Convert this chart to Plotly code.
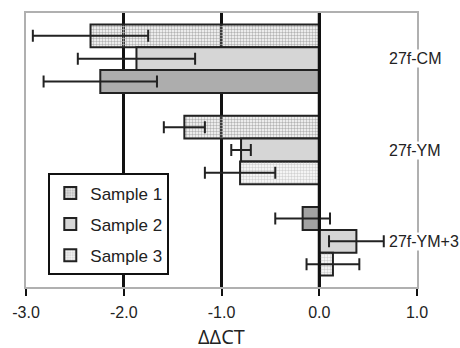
import plotly.graph_objects as go

# ---- data ----
categories = ["27f-YM", "27f-CM", "27f-YM+3"]      # data order
display_order = ["27f-CM", "27f-YM", "27f-YM+3"]   # top -> bottom
series_names = ["Sample 1", "Sample 2", "Sample 3"]

sample1 = [-1.38, -2.34, -0.17]
sample1_err = [0.21, 0.59, 0.28]
sample2 = [-0.80, -1.87, 0.38]
sample2_err = [0.10, 0.60, 0.28]
sample3 = [-0.81, -2.24, 0.14]
sample3_err = [0.36, 0.58, 0.27]

x_tick_vals = [-3, -2, -1, 0, 1]
x_tick_labels = ["-3.0", "-2.0", "-1.0", "0.0", "1.0"]
x_title = "ΔΔCT"

# ---- styles ----
DARK = "#adadad"
LIGHT = "#d6d6d6"
PAT_DARK_BG, PAT_DARK_FG = "#b4b4b4", "#e6e6e6"
PAT_LIGHT_BG, PAT_LIGHT_FG = "#d2d2d2", "#f6f6f6"
EDGE = "#222222"
BORDER = "#b0b0b0"
FONT = "Liberation Sans, Arial, sans-serif"

styles = [
    # sample 1: YM, CM, YM+3
    dict(color=[PAT_DARK_BG, PAT_DARK_BG, "#a2a2a2"],
         shape=[".", ".", ""],
         fg=[PAT_DARK_FG, PAT_DARK_FG, PAT_DARK_FG]),
    dict(color=[LIGHT, LIGHT, LIGHT], shape=["", "", ""],
         fg=[LIGHT, LIGHT, LIGHT]),
    dict(color=[PAT_LIGHT_BG, DARK, PAT_LIGHT_BG],
         shape=[".", "", "."],
         fg=[PAT_LIGHT_FG, PAT_LIGHT_FG, PAT_LIGHT_FG]),
]

values = [sample1, sample2, sample3]
errors = [sample1_err, sample2_err, sample3_err]

fig = go.Figure()
for name, vals, errs, st in zip(series_names, values, errors, styles):
    fig.add_trace(go.Bar(
        y=categories, x=vals, orientation="h", name=name, legendgroup=name,
        marker=dict(
            color=st["color"],
            line=dict(color=EDGE, width=2),
            pattern=dict(shape=st["shape"], fgcolor=st["fg"], bgcolor=st["color"],
                         size=3, solidity=0.5, fillmode="replace"),
        ),
        error_x=dict(type="data", array=errs, visible=True, color=EDGE,
                     thickness=2, width=6),
    ))

# category labels at the right border
for cat in display_order:
    fig.add_annotation(x=0.70, y=cat, xref="x", yref="y", text=cat,
                       showarrow=False, xanchor="left", yanchor="middle",
                       bgcolor="white", borderpad=0,
                       font=dict(family=FONT, size=16, color="#222"))

# x-axis title near the bottom edge like the reference
fig.add_annotation(x=0.5, y=-0.179, xref="paper", yref="paper", text=x_title,
                   showarrow=False, xanchor="center", yanchor="middle",
                   font=dict(family="Open Sans, Noto Sans, sans-serif",
                             size=20, color="#222"))

# zero line drawn above bars
fig.add_shape(type="line", x0=0, x1=0, xref="x", y0=0, y1=1, yref="paper",
              line=dict(color="#111", width=3), layer="above")

fig.update_layout(
    width=460, height=348,
    margin=dict(l=26, r=43, t=13, b=61, autoexpand=False),
    paper_bgcolor="white", plot_bgcolor="white",
    barmode="group", bargap=0.25, bargroupgap=0,
    font=dict(family=FONT, size=16, color="#222"),
    showlegend=True,
    legend=dict(x=0.057, y=0.4145, xanchor="left", yanchor="top",
                bgcolor="white", bordercolor="#111", borderwidth=2,
                font=dict(family=FONT, size=17, color="#222"),
                traceorder="grouped", tracegroupgap=6),
    xaxis=dict(range=[-3, 1], tickmode="array", tickvals=x_tick_vals,
               ticktext=x_tick_labels, ticks="outside", ticklen=7, tickwidth=2,
               tickcolor="#111", showline=True, linecolor=BORDER, linewidth=2,
               mirror=True, showgrid=True, gridcolor="#111", gridwidth=3,
               zeroline=False, ticklabelstandoff=3, automargin=False,
               tickfont=dict(family=FONT, size=16, color="#222")),
    yaxis=dict(type="category", categoryorder="array", categoryarray=display_order,
               autorange="reversed", showline=True, linecolor=BORDER, linewidth=2,
               mirror=True, showticklabels=False, showgrid=False, ticks="",
               zeroline=False, automargin=False),
)

fig.write_html("out.html",
               config={"displayModeBar": False},
               post_script="document.body.style.margin='0';"
                           "document.body.style.overflow='hidden';")
